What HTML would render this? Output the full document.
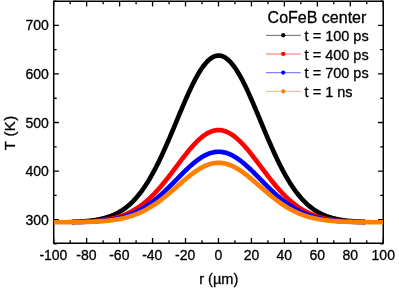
<!DOCTYPE html>
<html><head><meta charset="utf-8"><style>
html,body{margin:0;padding:0;background:#fff;}
svg text{stroke:#000;stroke-width:0.3px;}
body{width:399px;height:289px;overflow:hidden;position:relative;font-family:"Liberation Sans",sans-serif;}
</style></head><body>
<svg width="399" height="289" viewBox="0 0 399 289" style="position:absolute;left:0;top:0;will-change:transform;stroke-linejoin:round;font-family:'Liberation Sans',sans-serif">
<rect x="0" y="0" width="399" height="289" fill="#fff"/>
<rect x="53.7" y="1.25" width="329.55" height="242.05" fill="none" stroke="#000" stroke-width="1.5"/>
<path d="M53.70 243.3 v-5.2 M53.70 1.25 v5.2 M70.18 243.3 v-3.0 M70.18 1.25 v3.0 M86.66 243.3 v-5.2 M86.66 1.25 v5.2 M103.13 243.3 v-3.0 M103.13 1.25 v3.0 M119.61 243.3 v-5.2 M119.61 1.25 v5.2 M136.09 243.3 v-3.0 M136.09 1.25 v3.0 M152.56 243.3 v-5.2 M152.56 1.25 v5.2 M169.04 243.3 v-3.0 M169.04 1.25 v3.0 M185.52 243.3 v-5.2 M185.52 1.25 v5.2 M202.00 243.3 v-3.0 M202.00 1.25 v3.0 M218.48 243.3 v-5.2 M218.48 1.25 v5.2 M234.95 243.3 v-3.0 M234.95 1.25 v3.0 M251.43 243.3 v-5.2 M251.43 1.25 v5.2 M267.91 243.3 v-3.0 M267.91 1.25 v3.0 M284.38 243.3 v-5.2 M284.38 1.25 v5.2 M300.86 243.3 v-3.0 M300.86 1.25 v3.0 M317.34 243.3 v-5.2 M317.34 1.25 v5.2 M333.82 243.3 v-3.0 M333.82 1.25 v3.0 M350.30 243.3 v-5.2 M350.30 1.25 v5.2 M366.77 243.3 v-3.0 M366.77 1.25 v3.0 M383.25 243.3 v-5.2 M383.25 1.25 v5.2 M53.7 243.92 h3.0 M383.25 243.92 h-3.0 M53.7 219.64 h5.2 M383.25 219.64 h-5.2 M53.7 195.36 h3.0 M383.25 195.36 h-3.0 M53.7 171.08 h5.2 M383.25 171.08 h-5.2 M53.7 146.80 h3.0 M383.25 146.80 h-3.0 M53.7 122.52 h5.2 M383.25 122.52 h-5.2 M53.7 98.24 h3.0 M383.25 98.24 h-3.0 M53.7 73.96 h5.2 M383.25 73.96 h-5.2 M53.7 49.68 h3.0 M383.25 49.68 h-3.0 M53.7 25.40 h5.2 M383.25 25.40 h-5.2 M53.7 1.12 h3.0 M383.25 1.12 h-3.0" stroke="#000" stroke-width="1.3" fill="none"/>
<clipPath id="cp"><rect x="53.7" y="1.25" width="329.55" height="242.05"/></clipPath>
<polyline clip-path="url(#cp)" points="71.83,221.89 72.65,221.86 73.47,221.83 74.30,221.80 75.12,221.77 75.94,221.74 76.77,221.70 77.59,221.66 78.42,221.62 79.24,221.58 80.06,221.53 80.89,221.49 81.71,221.43 82.54,221.38 83.36,221.32 84.18,221.26 85.01,221.20 85.83,221.13 86.66,221.06 87.48,220.98 88.30,220.90 89.13,220.81 89.95,220.72 90.77,220.63 91.60,220.53 92.42,220.42 93.25,220.31 94.07,220.20 94.89,220.07 95.72,219.94 96.54,219.81 97.37,219.66 98.19,219.51 99.01,219.35 99.84,219.19 100.66,219.01 101.48,218.83 102.31,218.64 103.13,218.44 103.96,218.22 104.78,218.00 105.60,217.77 106.43,217.53 107.25,217.28 108.08,217.01 108.90,216.74 109.72,216.45 110.55,216.14 111.37,215.83 112.20,215.50 113.02,215.16 113.84,214.80 114.67,214.43 115.49,214.04 116.31,213.64 117.14,213.22 117.96,212.78 118.79,212.33 119.61,211.85 120.43,211.36 121.26,210.86 122.08,210.33 122.91,209.78 123.73,209.21 124.55,208.63 125.38,208.02 126.20,207.39 127.02,206.73 127.85,206.06 128.67,205.36 129.50,204.64 130.32,203.90 131.14,203.13 131.97,202.34 132.79,201.52 133.62,200.68 134.44,199.81 135.26,198.91 136.09,197.99 136.91,197.04 137.74,196.07 138.56,195.07 139.38,194.04 140.21,192.98 141.03,191.90 141.85,190.78 142.68,189.64 143.50,188.47 144.33,187.27 145.15,186.05 145.97,184.79 146.80,183.51 147.62,182.20 148.45,180.86 149.27,179.49 150.09,178.09 150.92,176.66 151.74,175.21 152.56,173.73 153.39,172.22 154.21,170.68 155.04,169.12 155.86,167.53 156.68,165.92 157.51,164.28 158.33,162.61 159.16,160.93 159.98,159.21 160.80,157.48 161.63,155.72 162.45,153.94 163.28,152.14 164.10,150.32 164.92,148.49 165.75,146.63 166.57,144.76 167.39,142.87 168.22,140.96 169.04,139.05 169.87,137.12 170.69,135.18 171.51,133.23 172.34,131.27 173.16,129.30 173.99,127.33 174.81,125.35 175.63,123.37 176.46,121.39 177.28,119.41 178.11,117.42 178.93,115.45 179.75,113.47 180.58,111.50 181.40,109.54 182.22,107.59 183.05,105.66 183.87,103.73 184.70,101.82 185.52,99.92 186.34,98.04 187.17,96.19 187.99,94.35 188.82,92.53 189.64,90.75 190.46,88.98 191.29,87.25 192.11,85.55 192.93,83.87 193.76,82.23 194.58,80.63 195.41,79.06 196.23,77.54 197.05,76.05 197.88,74.60 198.70,73.19 199.53,71.84 200.35,70.52 201.17,69.25 202.00,68.04 202.82,66.87 203.65,65.75 204.47,64.69 205.29,63.68 206.12,62.72 206.94,61.82 207.76,60.98 208.59,60.20 209.41,59.47 210.24,58.81 211.06,58.20 211.88,57.66 212.71,57.17 213.53,56.75 214.36,56.39 215.18,56.10 216.00,55.87 216.83,55.70 217.65,55.60 218.48,55.56 219.30,55.58 220.12,55.67 220.95,55.82 221.77,56.04 222.59,56.32 223.42,56.66 224.24,57.07 225.07,57.53 225.89,58.06 226.71,58.65 227.54,59.31 228.36,60.02 229.19,60.79 230.01,61.62 230.83,62.50 231.66,63.44 232.48,64.44 233.30,65.49 234.13,66.60 234.95,67.75 235.78,68.96 236.60,70.21 237.42,71.52 238.25,72.86 239.07,74.26 239.90,75.70 240.72,77.17 241.54,78.69 242.37,80.25 243.19,81.85 244.02,83.48 244.84,85.14 245.66,86.84 246.49,88.56 247.31,90.32 248.13,92.10 248.96,93.91 249.78,95.74 250.61,97.60 251.43,99.47 252.25,101.36 253.08,103.27 253.90,105.19 254.73,107.13 255.55,109.08 256.37,111.03 257.20,113.00 258.02,114.97 258.84,116.95 259.67,118.93 260.49,120.91 261.32,122.89 262.14,124.88 262.96,126.85 263.79,128.83 264.61,130.80 265.44,132.76 266.26,134.71 267.08,136.65 267.91,138.59 268.73,140.51 269.56,142.41 270.38,144.30 271.20,146.18 272.03,148.04 272.85,149.88 273.67,151.71 274.50,153.51 275.32,155.30 276.15,157.06 276.97,158.80 277.79,160.52 278.62,162.21 279.44,163.88 280.27,165.53 281.09,167.15 281.91,168.74 282.74,170.31 283.56,171.85 284.38,173.37 285.21,174.86 286.03,176.32 286.86,177.75 287.68,179.15 288.50,180.53 289.33,181.88 290.15,183.20 290.98,184.49 291.80,185.75 292.62,186.98 293.45,188.19 294.27,189.36 295.10,190.51 295.92,191.63 296.74,192.72 297.57,193.79 298.39,194.82 299.21,195.83 300.04,196.81 300.86,197.77 301.69,198.69 302.51,199.59 303.33,200.47 304.16,201.32 304.98,202.14 305.81,202.94 306.63,203.72 307.45,204.47 308.28,205.19 309.10,205.90 309.93,206.58 310.75,207.23 311.57,207.87 312.40,208.48 313.22,209.08 314.04,209.65 314.87,210.20 315.69,210.73 316.52,211.24 317.34,211.74 318.16,212.21 318.99,212.67 319.81,213.11 320.64,213.54 321.46,213.94 322.28,214.34 323.11,214.71 323.93,215.07 324.75,215.42 325.58,215.75 326.40,216.07 327.23,216.37 328.05,216.67 328.87,216.95 329.70,217.21 330.52,217.47 331.35,217.72 332.17,217.95 332.99,218.17 333.82,218.39 334.64,218.59 335.47,218.78 336.29,218.97 337.11,219.15 337.94,219.31 338.76,219.47 339.58,219.63 340.41,219.77 341.23,219.91 342.06,220.04 342.88,220.17 343.70,220.28 344.53,220.40 345.35,220.50 346.18,220.61 347.00,220.70 347.82,220.79 348.65,220.88 349.47,220.96 350.30,221.04 351.12,221.11 351.94,221.18 352.77,221.25 353.59,221.31 354.41,221.37 355.24,221.42 356.06,221.47 356.89,221.52 357.71,221.57 358.53,221.61 359.36,221.65 360.18,221.69 361.01,221.73 361.83,221.76 362.65,221.80 363.48,221.83 364.30,221.85 365.12,221.88" fill="none" stroke="#000000" stroke-width="4.65" stroke-linejoin="round"/>
<polyline clip-path="url(#cp)" points="71.83,222.06 72.65,222.04 73.47,222.03 74.30,222.01 75.12,221.99 75.94,221.97 76.77,221.95 77.59,221.93 78.42,221.91 79.24,221.88 80.06,221.86 80.89,221.83 81.71,221.80 82.54,221.77 83.36,221.74 84.18,221.71 85.01,221.67 85.83,221.64 86.66,221.60 87.48,221.55 88.30,221.51 89.13,221.46 89.95,221.41 90.77,221.36 91.60,221.30 92.42,221.25 93.25,221.18 94.07,221.12 94.89,221.05 95.72,220.98 96.54,220.90 97.37,220.82 98.19,220.74 99.01,220.65 99.84,220.56 100.66,220.47 101.48,220.36 102.31,220.26 103.13,220.15 103.96,220.03 104.78,219.91 105.60,219.78 106.43,219.65 107.25,219.51 108.08,219.36 108.90,219.21 109.72,219.05 110.55,218.88 111.37,218.71 112.20,218.52 113.02,218.33 113.84,218.14 114.67,217.93 115.49,217.72 116.31,217.49 117.14,217.26 117.96,217.02 118.79,216.77 119.61,216.51 120.43,216.24 121.26,215.96 122.08,215.66 122.91,215.36 123.73,215.05 124.55,214.72 125.38,214.39 126.20,214.04 127.02,213.68 127.85,213.30 128.67,212.92 129.50,212.52 130.32,212.11 131.14,211.68 131.97,211.25 132.79,210.79 133.62,210.33 134.44,209.85 135.26,209.35 136.09,208.84 136.91,208.32 137.74,207.78 138.56,207.23 139.38,206.66 140.21,206.07 141.03,205.47 141.85,204.86 142.68,204.23 143.50,203.58 144.33,202.92 145.15,202.24 145.97,201.55 146.80,200.84 147.62,200.11 148.45,199.37 149.27,198.61 150.09,197.84 150.92,197.05 151.74,196.25 152.56,195.43 153.39,194.60 154.21,193.75 155.04,192.88 155.86,192.00 156.68,191.11 157.51,190.21 158.33,189.29 159.16,188.35 159.98,187.40 160.80,186.45 161.63,185.47 162.45,184.49 163.28,183.50 164.10,182.49 164.92,181.47 165.75,180.45 166.57,179.41 167.39,178.37 168.22,177.32 169.04,176.26 169.87,175.19 170.69,174.12 171.51,173.04 172.34,171.95 173.16,170.87 173.99,169.78 174.81,168.68 175.63,167.59 176.46,166.49 177.28,165.40 178.11,164.30 178.93,163.21 179.75,162.12 180.58,161.03 181.40,159.94 182.22,158.87 183.05,157.79 183.87,156.73 184.70,155.67 185.52,154.62 186.34,153.59 187.17,152.56 187.99,151.54 188.82,150.54 189.64,149.55 190.46,148.58 191.29,147.62 192.11,146.68 192.93,145.75 193.76,144.85 194.58,143.96 195.41,143.09 196.23,142.25 197.05,141.42 197.88,140.62 198.70,139.85 199.53,139.10 200.35,138.37 201.17,137.67 202.00,137.00 202.82,136.35 203.65,135.73 204.47,135.14 205.29,134.59 206.12,134.06 206.94,133.56 207.76,133.10 208.59,132.66 209.41,132.26 210.24,131.89 211.06,131.56 211.88,131.26 212.71,130.99 213.53,130.76 214.36,130.56 215.18,130.40 216.00,130.27 216.83,130.17 217.65,130.12 218.48,130.10 219.30,130.11 220.12,130.16 220.95,130.24 221.77,130.36 222.59,130.52 223.42,130.71 224.24,130.93 225.07,131.19 225.89,131.48 226.71,131.81 227.54,132.17 228.36,132.56 229.19,132.99 230.01,133.45 230.83,133.94 231.66,134.46 232.48,135.01 233.30,135.59 234.13,136.20 234.95,136.84 235.78,137.50 236.60,138.20 237.42,138.92 238.25,139.66 239.07,140.44 239.90,141.23 240.72,142.05 241.54,142.89 242.37,143.75 243.19,144.63 244.02,145.53 244.84,146.45 245.66,147.39 246.49,148.35 247.31,149.32 248.13,150.30 248.96,151.30 249.78,152.31 250.61,153.34 251.43,154.37 252.25,155.42 253.08,156.47 253.90,157.54 254.73,158.61 255.55,159.69 256.37,160.77 257.20,161.85 258.02,162.94 258.84,164.04 259.67,165.13 260.49,166.23 261.32,167.32 262.14,168.42 262.96,169.51 263.79,170.61 264.61,171.69 265.44,172.78 266.26,173.86 267.08,174.93 267.91,176.00 268.73,177.06 269.56,178.12 270.38,179.16 271.20,180.20 272.03,181.23 272.85,182.25 273.67,183.25 274.50,184.25 275.32,185.24 276.15,186.21 276.97,187.18 277.79,188.13 278.62,189.06 279.44,189.99 280.27,190.90 281.09,191.79 281.91,192.67 282.74,193.54 283.56,194.39 284.38,195.23 285.21,196.05 286.03,196.86 286.86,197.65 287.68,198.43 288.50,199.19 289.33,199.94 290.15,200.66 290.98,201.38 291.80,202.08 292.62,202.76 293.45,203.42 294.27,204.07 295.10,204.71 295.92,205.33 296.74,205.93 297.57,206.52 298.39,207.09 299.21,207.65 300.04,208.19 300.86,208.72 301.69,209.23 302.51,209.73 303.33,210.21 304.16,210.68 304.98,211.14 305.81,211.58 306.63,212.01 307.45,212.42 308.28,212.82 309.10,213.21 309.93,213.59 310.75,213.95 311.57,214.30 312.40,214.64 313.22,214.97 314.04,215.29 314.87,215.59 315.69,215.89 316.52,216.17 317.34,216.44 318.16,216.71 318.99,216.96 319.81,217.20 320.64,217.44 321.46,217.66 322.28,217.88 323.11,218.09 323.93,218.29 324.75,218.48 325.58,218.66 326.40,218.84 327.23,219.01 328.05,219.17 328.87,219.32 329.70,219.47 330.52,219.61 331.35,219.75 332.17,219.88 332.99,220.00 333.82,220.12 334.64,220.23 335.47,220.34 336.29,220.44 337.11,220.54 337.94,220.63 338.76,220.72 339.58,220.81 340.41,220.89 341.23,220.96 342.06,221.03 342.88,221.10 343.70,221.17 344.53,221.23 345.35,221.29 346.18,221.35 347.00,221.40 347.82,221.45 348.65,221.50 349.47,221.54 350.30,221.59 351.12,221.63 351.94,221.66 352.77,221.70 353.59,221.73 354.41,221.77 355.24,221.80 356.06,221.83 356.89,221.85 357.71,221.88 358.53,221.90 359.36,221.93 360.18,221.95 361.01,221.97 361.83,221.99 362.65,222.00 363.48,222.02 364.30,222.04 365.12,222.05" fill="none" stroke="#ff0000" stroke-width="4.65" stroke-linejoin="round"/>
<polyline clip-path="url(#cp)" points="71.83,222.10 72.65,222.09 73.47,222.08 74.30,222.07 75.12,222.05 75.94,222.04 76.77,222.03 77.59,222.01 78.42,221.99 79.24,221.97 80.06,221.95 80.89,221.93 81.71,221.91 82.54,221.89 83.36,221.86 84.18,221.84 85.01,221.81 85.83,221.78 86.66,221.75 87.48,221.72 88.30,221.69 89.13,221.65 89.95,221.61 90.77,221.57 91.60,221.53 92.42,221.48 93.25,221.44 94.07,221.39 94.89,221.34 95.72,221.28 96.54,221.22 97.37,221.16 98.19,221.10 99.01,221.03 99.84,220.96 100.66,220.89 101.48,220.81 102.31,220.73 103.13,220.64 103.96,220.55 104.78,220.46 105.60,220.36 106.43,220.26 107.25,220.15 108.08,220.04 108.90,219.92 109.72,219.80 110.55,219.67 111.37,219.54 112.20,219.40 113.02,219.26 113.84,219.11 114.67,218.95 115.49,218.78 116.31,218.61 117.14,218.44 117.96,218.25 118.79,218.06 119.61,217.86 120.43,217.65 121.26,217.44 122.08,217.21 122.91,216.98 123.73,216.74 124.55,216.49 125.38,216.24 126.20,215.97 127.02,215.69 127.85,215.41 128.67,215.11 129.50,214.81 130.32,214.49 131.14,214.17 131.97,213.83 132.79,213.49 133.62,213.13 134.44,212.76 135.26,212.39 136.09,212.00 136.91,211.60 137.74,211.18 138.56,210.76 139.38,210.32 140.21,209.88 141.03,209.42 141.85,208.95 142.68,208.47 143.50,207.97 144.33,207.46 145.15,206.95 145.97,206.41 146.80,205.87 147.62,205.32 148.45,204.75 149.27,204.17 150.09,203.58 150.92,202.98 151.74,202.36 152.56,201.74 153.39,201.10 154.21,200.45 155.04,199.79 155.86,199.11 156.68,198.43 157.51,197.74 158.33,197.03 159.16,196.32 159.98,195.60 160.80,194.86 161.63,194.12 162.45,193.37 163.28,192.60 164.10,191.84 164.92,191.06 165.75,190.27 166.57,189.48 167.39,188.68 168.22,187.88 169.04,187.07 169.87,186.25 170.69,185.43 171.51,184.60 172.34,183.78 173.16,182.94 173.99,182.11 174.81,181.27 175.63,180.44 176.46,179.60 177.28,178.76 178.11,177.92 178.93,177.08 179.75,176.25 180.58,175.42 181.40,174.59 182.22,173.76 183.05,172.94 183.87,172.13 184.70,171.32 185.52,170.52 186.34,169.72 187.17,168.94 187.99,168.16 188.82,167.39 189.64,166.64 190.46,165.89 191.29,165.16 192.11,164.44 192.93,163.73 193.76,163.04 194.58,162.36 195.41,161.70 196.23,161.05 197.05,160.42 197.88,159.81 198.70,159.21 199.53,158.64 200.35,158.08 201.17,157.55 202.00,157.03 202.82,156.54 203.65,156.07 204.47,155.62 205.29,155.19 206.12,154.78 206.94,154.40 207.76,154.05 208.59,153.72 209.41,153.41 210.24,153.13 211.06,152.87 211.88,152.64 212.71,152.44 213.53,152.26 214.36,152.11 215.18,151.98 216.00,151.88 216.83,151.81 217.65,151.77 218.48,151.75 219.30,151.76 220.12,151.80 220.95,151.87 221.77,151.96 222.59,152.08 223.42,152.22 224.24,152.39 225.07,152.59 225.89,152.81 226.71,153.06 227.54,153.34 228.36,153.64 229.19,153.97 230.01,154.32 230.83,154.69 231.66,155.09 232.48,155.51 233.30,155.96 234.13,156.42 234.95,156.91 235.78,157.42 236.60,157.95 237.42,158.50 238.25,159.07 239.07,159.66 239.90,160.27 240.72,160.90 241.54,161.54 242.37,162.20 243.19,162.87 244.02,163.56 244.84,164.27 245.66,164.98 246.49,165.71 247.31,166.46 248.13,167.21 248.96,167.98 249.78,168.75 250.61,169.53 251.43,170.33 252.25,171.13 253.08,171.93 253.90,172.75 254.73,173.57 255.55,174.39 256.37,175.22 257.20,176.05 258.02,176.88 258.84,177.72 259.67,178.56 260.49,179.40 261.32,180.23 262.14,181.07 262.96,181.91 263.79,182.74 264.61,183.58 265.44,184.41 266.26,185.23 267.08,186.05 267.91,186.87 268.73,187.68 269.56,188.49 270.38,189.29 271.20,190.08 272.03,190.87 272.85,191.65 273.67,192.42 274.50,193.18 275.32,193.94 276.15,194.68 276.97,195.42 277.79,196.15 278.62,196.86 279.44,197.57 280.27,198.27 281.09,198.95 281.91,199.63 282.74,200.29 283.56,200.94 284.38,201.58 285.21,202.21 286.03,202.83 286.86,203.44 287.68,204.03 288.50,204.61 289.33,205.18 290.15,205.74 290.98,206.29 291.80,206.82 292.62,207.34 293.45,207.85 294.27,208.35 295.10,208.83 295.92,209.31 296.74,209.77 297.57,210.22 298.39,210.66 299.21,211.08 300.04,211.50 300.86,211.90 301.69,212.29 302.51,212.67 303.33,213.04 304.16,213.40 304.98,213.75 305.81,214.09 306.63,214.42 307.45,214.74 308.28,215.04 309.10,215.34 309.93,215.63 310.75,215.91 311.57,216.17 312.40,216.43 313.22,216.68 314.04,216.93 314.87,217.16 315.69,217.39 316.52,217.60 317.34,217.81 318.16,218.01 318.99,218.21 319.81,218.39 320.64,218.57 321.46,218.74 322.28,218.91 323.11,219.07 323.93,219.22 324.75,219.37 325.58,219.51 326.40,219.64 327.23,219.77 328.05,219.90 328.87,220.01 329.70,220.13 330.52,220.24 331.35,220.34 332.17,220.44 332.99,220.53 333.82,220.62 334.64,220.71 335.47,220.79 336.29,220.87 337.11,220.94 337.94,221.02 338.76,221.08 339.58,221.15 340.41,221.21 341.23,221.27 342.06,221.32 342.88,221.38 343.70,221.43 344.53,221.47 345.35,221.52 346.18,221.56 347.00,221.60 347.82,221.64 348.65,221.68 349.47,221.71 350.30,221.74 351.12,221.78 351.94,221.80 352.77,221.83 353.59,221.86 354.41,221.88 355.24,221.91 356.06,221.93 356.89,221.95 357.71,221.97 358.53,221.99 359.36,222.00 360.18,222.02 361.01,222.04 361.83,222.05 362.65,222.07 363.48,222.08 364.30,222.09 365.12,222.10" fill="none" stroke="#0000ff" stroke-width="4.65" stroke-linejoin="round"/>
<polyline clip-path="url(#cp)" points="53.70,222.24 54.52,222.24 55.35,222.24 56.17,222.24 57.00,222.24 57.82,222.23 58.64,222.23 59.47,222.23 60.29,222.23 61.11,222.22 61.94,222.22 62.76,222.22 63.59,222.21 64.41,222.21 65.23,222.20 66.06,222.20 66.88,222.19 67.71,222.19 68.53,222.18 69.35,222.18 70.18,222.17 71.00,222.17 71.83,222.16 72.65,222.15 73.47,222.14 74.30,222.13 75.12,222.12 75.94,222.11 76.77,222.10 77.59,222.09 78.42,222.08 79.24,222.07 80.06,222.05 80.89,222.04 81.71,222.02 82.54,222.01 83.36,221.99 84.18,221.97 85.01,221.95 85.83,221.93 86.66,221.91 87.48,221.89 88.30,221.86 89.13,221.84 89.95,221.81 90.77,221.78 91.60,221.75 92.42,221.72 93.25,221.68 94.07,221.65 94.89,221.61 95.72,221.57 96.54,221.52 97.37,221.48 98.19,221.43 99.01,221.38 99.84,221.33 100.66,221.27 101.48,221.22 102.31,221.15 103.13,221.09 103.96,221.02 104.78,220.95 105.60,220.88 106.43,220.80 107.25,220.72 108.08,220.63 108.90,220.54 109.72,220.45 110.55,220.35 111.37,220.25 112.20,220.14 113.02,220.03 113.84,219.92 114.67,219.79 115.49,219.67 116.31,219.53 117.14,219.40 117.96,219.25 118.79,219.10 119.61,218.94 120.43,218.78 121.26,218.61 122.08,218.44 122.91,218.25 123.73,218.07 124.55,217.87 125.38,217.66 126.20,217.45 127.02,217.23 127.85,217.00 128.67,216.77 129.50,216.53 130.32,216.27 131.14,216.01 131.97,215.74 132.79,215.46 133.62,215.18 134.44,214.88 135.26,214.57 136.09,214.26 136.91,213.93 137.74,213.60 138.56,213.25 139.38,212.90 140.21,212.53 141.03,212.16 141.85,211.77 142.68,211.37 143.50,210.97 144.33,210.55 145.15,210.12 145.97,209.68 146.80,209.24 147.62,208.78 148.45,208.31 149.27,207.83 150.09,207.34 150.92,206.83 151.74,206.32 152.56,205.80 153.39,205.27 154.21,204.72 155.04,204.17 155.86,203.61 156.68,203.04 157.51,202.45 158.33,201.86 159.16,201.26 159.98,200.65 160.80,200.03 161.63,199.40 162.45,198.77 163.28,198.12 164.10,197.47 164.92,196.81 165.75,196.14 166.57,195.47 167.39,194.79 168.22,194.11 169.04,193.41 169.87,192.72 170.69,192.02 171.51,191.31 172.34,190.60 173.16,189.89 173.99,189.18 174.81,188.46 175.63,187.74 176.46,187.02 177.28,186.30 178.11,185.58 178.93,184.86 179.75,184.14 180.58,183.42 181.40,182.70 182.22,181.99 183.05,181.28 183.87,180.58 184.70,179.88 185.52,179.18 186.34,178.50 187.17,177.82 187.99,177.14 188.82,176.48 189.64,175.82 190.46,175.17 191.29,174.53 192.11,173.91 192.93,173.29 193.76,172.69 194.58,172.10 195.41,171.52 196.23,170.96 197.05,170.41 197.88,169.87 198.70,169.35 199.53,168.85 200.35,168.37 201.17,167.90 202.00,167.45 202.82,167.02 203.65,166.60 204.47,166.21 205.29,165.83 206.12,165.48 206.94,165.15 207.76,164.84 208.59,164.55 209.41,164.28 210.24,164.03 211.06,163.81 211.88,163.60 212.71,163.42 213.53,163.27 214.36,163.14 215.18,163.03 216.00,162.94 216.83,162.88 217.65,162.84 218.48,162.82 219.30,162.83 220.12,162.87 220.95,162.92 221.77,163.00 222.59,163.11 223.42,163.23 224.24,163.38 225.07,163.56 225.89,163.75 226.71,163.97 227.54,164.22 228.36,164.48 229.19,164.76 230.01,165.07 230.83,165.40 231.66,165.75 232.48,166.12 233.30,166.51 234.13,166.91 234.95,167.34 235.78,167.79 236.60,168.25 237.42,168.73 238.25,169.23 239.07,169.75 239.90,170.28 240.72,170.82 241.54,171.38 242.37,171.96 243.19,172.54 244.02,173.15 244.84,173.76 245.66,174.38 246.49,175.02 247.31,175.66 248.13,176.32 248.96,176.98 249.78,177.65 250.61,178.33 251.43,179.02 252.25,179.71 253.08,180.41 253.90,181.11 254.73,181.82 255.55,182.53 256.37,183.25 257.20,183.97 258.02,184.68 258.84,185.40 259.67,186.13 260.49,186.85 261.32,187.57 262.14,188.29 262.96,189.00 263.79,189.72 264.61,190.43 265.44,191.14 266.26,191.85 267.08,192.55 267.91,193.25 268.73,193.94 269.56,194.63 270.38,195.31 271.20,195.98 272.03,196.65 272.85,197.31 273.67,197.97 274.50,198.61 275.32,199.25 276.15,199.88 276.97,200.50 277.79,201.11 278.62,201.72 279.44,202.31 280.27,202.90 281.09,203.47 281.91,204.04 282.74,204.59 283.56,205.14 284.38,205.67 285.21,206.20 286.03,206.71 286.86,207.22 287.68,207.71 288.50,208.19 289.33,208.67 290.15,209.13 290.98,209.58 291.80,210.02 292.62,210.45 293.45,210.87 294.27,211.28 295.10,211.68 295.92,212.06 296.74,212.44 297.57,212.81 298.39,213.17 299.21,213.51 300.04,213.85 300.86,214.18 301.69,214.50 302.51,214.81 303.33,215.11 304.16,215.40 304.98,215.68 305.81,215.95 306.63,216.21 307.45,216.47 308.28,216.71 309.10,216.95 309.93,217.18 310.75,217.40 311.57,217.61 312.40,217.82 313.22,218.02 314.04,218.21 314.87,218.39 315.69,218.57 316.52,218.74 317.34,218.91 318.16,219.06 318.99,219.22 319.81,219.36 320.64,219.50 321.46,219.64 322.28,219.76 323.11,219.89 323.93,220.00 324.75,220.12 325.58,220.23 326.40,220.33 327.23,220.43 328.05,220.52 328.87,220.61 329.70,220.70 330.52,220.78 331.35,220.86 332.17,220.94 332.99,221.01 333.82,221.07 334.64,221.14 335.47,221.20 336.29,221.26 337.11,221.32 337.94,221.37 338.76,221.42 339.58,221.47 340.41,221.51 341.23,221.56 342.06,221.60 342.88,221.64 343.70,221.67 344.53,221.71 345.35,221.74 346.18,221.77 347.00,221.80 347.82,221.83 348.65,221.86 349.47,221.88 350.30,221.90 351.12,221.93 351.94,221.95 352.77,221.97 353.59,221.99 354.41,222.00 355.24,222.02 356.06,222.04 356.89,222.05 357.71,222.06 358.53,222.08 359.36,222.09 360.18,222.10 361.01,222.11 361.83,222.12 362.65,222.13 363.48,222.14 364.30,222.15 365.12,222.16 365.95,222.16 366.77,222.17 367.60,222.18 368.42,222.18 369.24,222.19 370.07,222.19 370.89,222.20 371.72,222.20 372.54,222.21 373.36,222.21 374.19,222.21 375.01,222.22 375.84,222.22 376.66,222.22 377.48,222.23 378.31,222.23 379.13,222.23 379.95,222.23 380.78,222.24 381.60,222.24 382.43,222.24 383.25,222.24" fill="none" stroke="#ff8000" stroke-width="4.65" stroke-linejoin="round"/>
<text x="53.40" y="260.4" font-size="14" text-anchor="middle">-100</text>
<text x="86.36" y="260.4" font-size="14" text-anchor="middle">-80</text>
<text x="119.31" y="260.4" font-size="14" text-anchor="middle">-60</text>
<text x="152.26" y="260.4" font-size="14" text-anchor="middle">-40</text>
<text x="185.22" y="260.4" font-size="14" text-anchor="middle">-20</text>
<text x="218.48" y="260.4" font-size="14" text-anchor="middle">0</text>
<text x="251.43" y="260.4" font-size="14" text-anchor="middle">20</text>
<text x="284.38" y="260.4" font-size="14" text-anchor="middle">40</text>
<text x="317.34" y="260.4" font-size="14" text-anchor="middle">60</text>
<text x="350.30" y="260.4" font-size="14" text-anchor="middle">80</text>
<text x="383.25" y="260.4" font-size="14" text-anchor="middle">100</text>
<text x="48.8" y="224.64" font-size="14" text-anchor="end">300</text>
<text x="48.8" y="176.08" font-size="14" text-anchor="end">400</text>
<text x="48.8" y="127.52" font-size="14" text-anchor="end">500</text>
<text x="48.8" y="78.96" font-size="14" text-anchor="end">600</text>
<text x="48.8" y="30.40" font-size="14" text-anchor="end">700</text>
<text x="218.8" y="284.1" font-size="14.6" text-anchor="middle">r (µm)</text>
<text transform="translate(15.3,132.9) rotate(-90)" font-size="15" letter-spacing="0.35" text-anchor="middle">T (K)</text>
<text x="267.6" y="22.8" font-size="16">CoFeB center</text>
<line x1="266" x2="300.8" y1="35.35" y2="35.35" stroke="#000000" stroke-width="0.6"/>
<circle cx="283.2" cy="35.25" r="2.15" fill="#000000"/>
<text x="304.6" y="40.95" font-size="14.5">t = 100 ps</text>
<line x1="266" x2="300.8" y1="54.0" y2="54.0" stroke="#ff0000" stroke-width="0.6"/>
<circle cx="283.2" cy="53.9" r="2.15" fill="#ff0000"/>
<text x="304.6" y="59.60" font-size="14.5">t = 400 ps</text>
<line x1="266" x2="300.8" y1="72.69999999999999" y2="72.69999999999999" stroke="#0000ff" stroke-width="0.6"/>
<circle cx="283.2" cy="72.6" r="2.15" fill="#0000ff"/>
<text x="304.6" y="78.30" font-size="14.5">t = 700 ps</text>
<line x1="266" x2="300.8" y1="91.39999999999999" y2="91.39999999999999" stroke="#ff8000" stroke-width="0.6"/>
<circle cx="283.2" cy="91.3" r="2.15" fill="#ff8000"/>
<text x="304.6" y="97.00" font-size="14.5">t = 1 ns</text>
</svg>
</body></html>
